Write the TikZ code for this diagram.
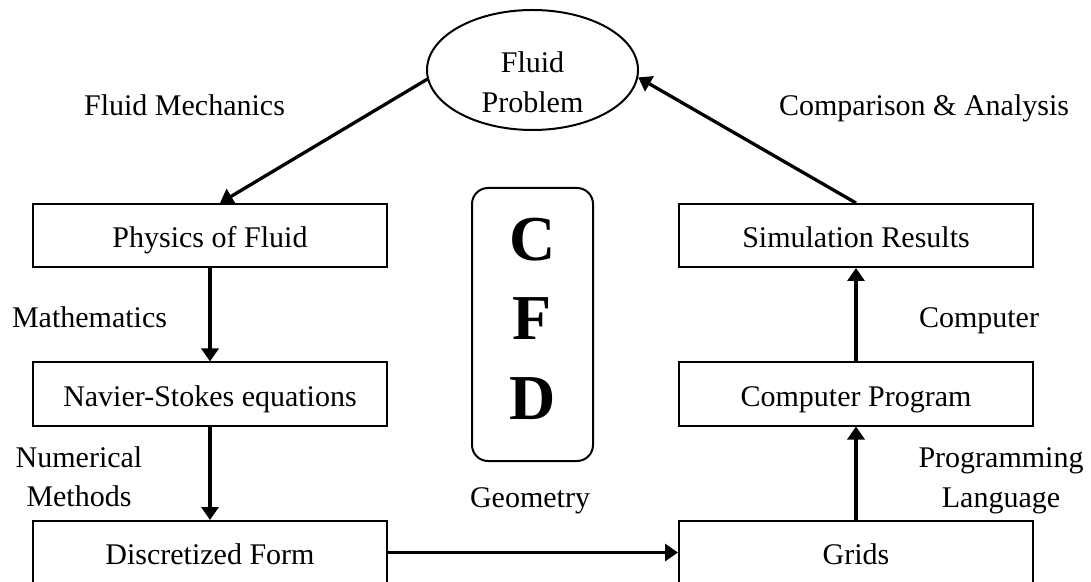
\documentclass[tikz,border=0pt]{standalone}
\usepackage{fontspec}
\setmainfont{Liberation Serif}
\usetikzlibrary{arrows.meta,shapes.geometric,calc}
\begin{document}
\begin{tikzpicture}[x=1pt,y=1pt,
  every node/.style={font=\fontsize{30}{39.5}\selectfont},
  stagebox/.style={draw,line width=2pt,rectangle,minimum width=354pt,
    minimum height=63pt,inner sep=0pt,text height=24pt,text depth=0pt},
  flow/.style={line width=3.3pt,-{Triangle[length=13pt,width=17pt]}},
  caption/.style={align=center}
]
\useasboundingbox (0,0) rectangle (1091,581);
\fill[white] (0,0) rectangle (1091,581);
\clip (0,0) rectangle (1091,581);

% the problem at the top of the cycle
\node[draw,ellipse,line width=2pt,minimum width=211pt,minimum height=120pt,
  inner sep=0pt,
  label={[align=center,yshift=-12pt]center:Fluid\\Problem}] (prob) at (532.5,511) {};

% left column
\node[stagebox] (phys) at (210,345.5) {Physics of Fluid};
\node[stagebox] (nav)  at (210,187)   {Navier-Stokes equations};
\node[stagebox] (disc) at (210,28.5)  {Discretized Form};

% right column
\node[stagebox] (sim)   at (856,345.5) {Simulation Results};
\node[stagebox] (comp)  at (856,187)   {Computer Program};
\node[stagebox] (grids) at (856,28.5)  {Grids};

% CFD panel in the middle
\node[draw,line width=2pt,rounded corners=16pt,minimum width=121pt,
  minimum height=273pt,inner sep=0pt,
  label={[align=center,font=\bfseries\fontsize{64}{79.5}\selectfont,yshift=6pt]center:C\\F\\D}]
  (cfd) at (532.5,256.5) {};

% connectors
\draw[flow] (prob.185) -- ($(phys.north)+(10,0)$);
\draw[flow] (phys.south) -- (nav.north);
\draw[flow] (nav.south) -- (disc.north);
\draw[flow] (disc.east) -- (grids.west);
\draw[flow] (grids.north) -- (comp.south);
\draw[flow] (comp.north) -- (sim.south);
\draw[flow] (sim.north) -- (prob.356);

% step labels
\node[anchor=base] (lblmech) at (184.5,465) {Fluid Mechanics};
\node[anchor=base] (lblcmp)  at (924,465)   {Comparison \& Analysis};
\node[anchor=base] (lblmath) at (89.5,253)  {Mathematics};
\node[anchor=base] (lblpc)   at (979,253)   {Computer};
\node[caption]     (lblnum)  at (79,104.25) {Numerical\\Methods};
\node[caption]     (lblprog) at (1001,100)  {Programming\\Language};
\node[anchor=base] (lblgeo)  at (530,74)    {Geometry};
\end{tikzpicture}
\end{document}
